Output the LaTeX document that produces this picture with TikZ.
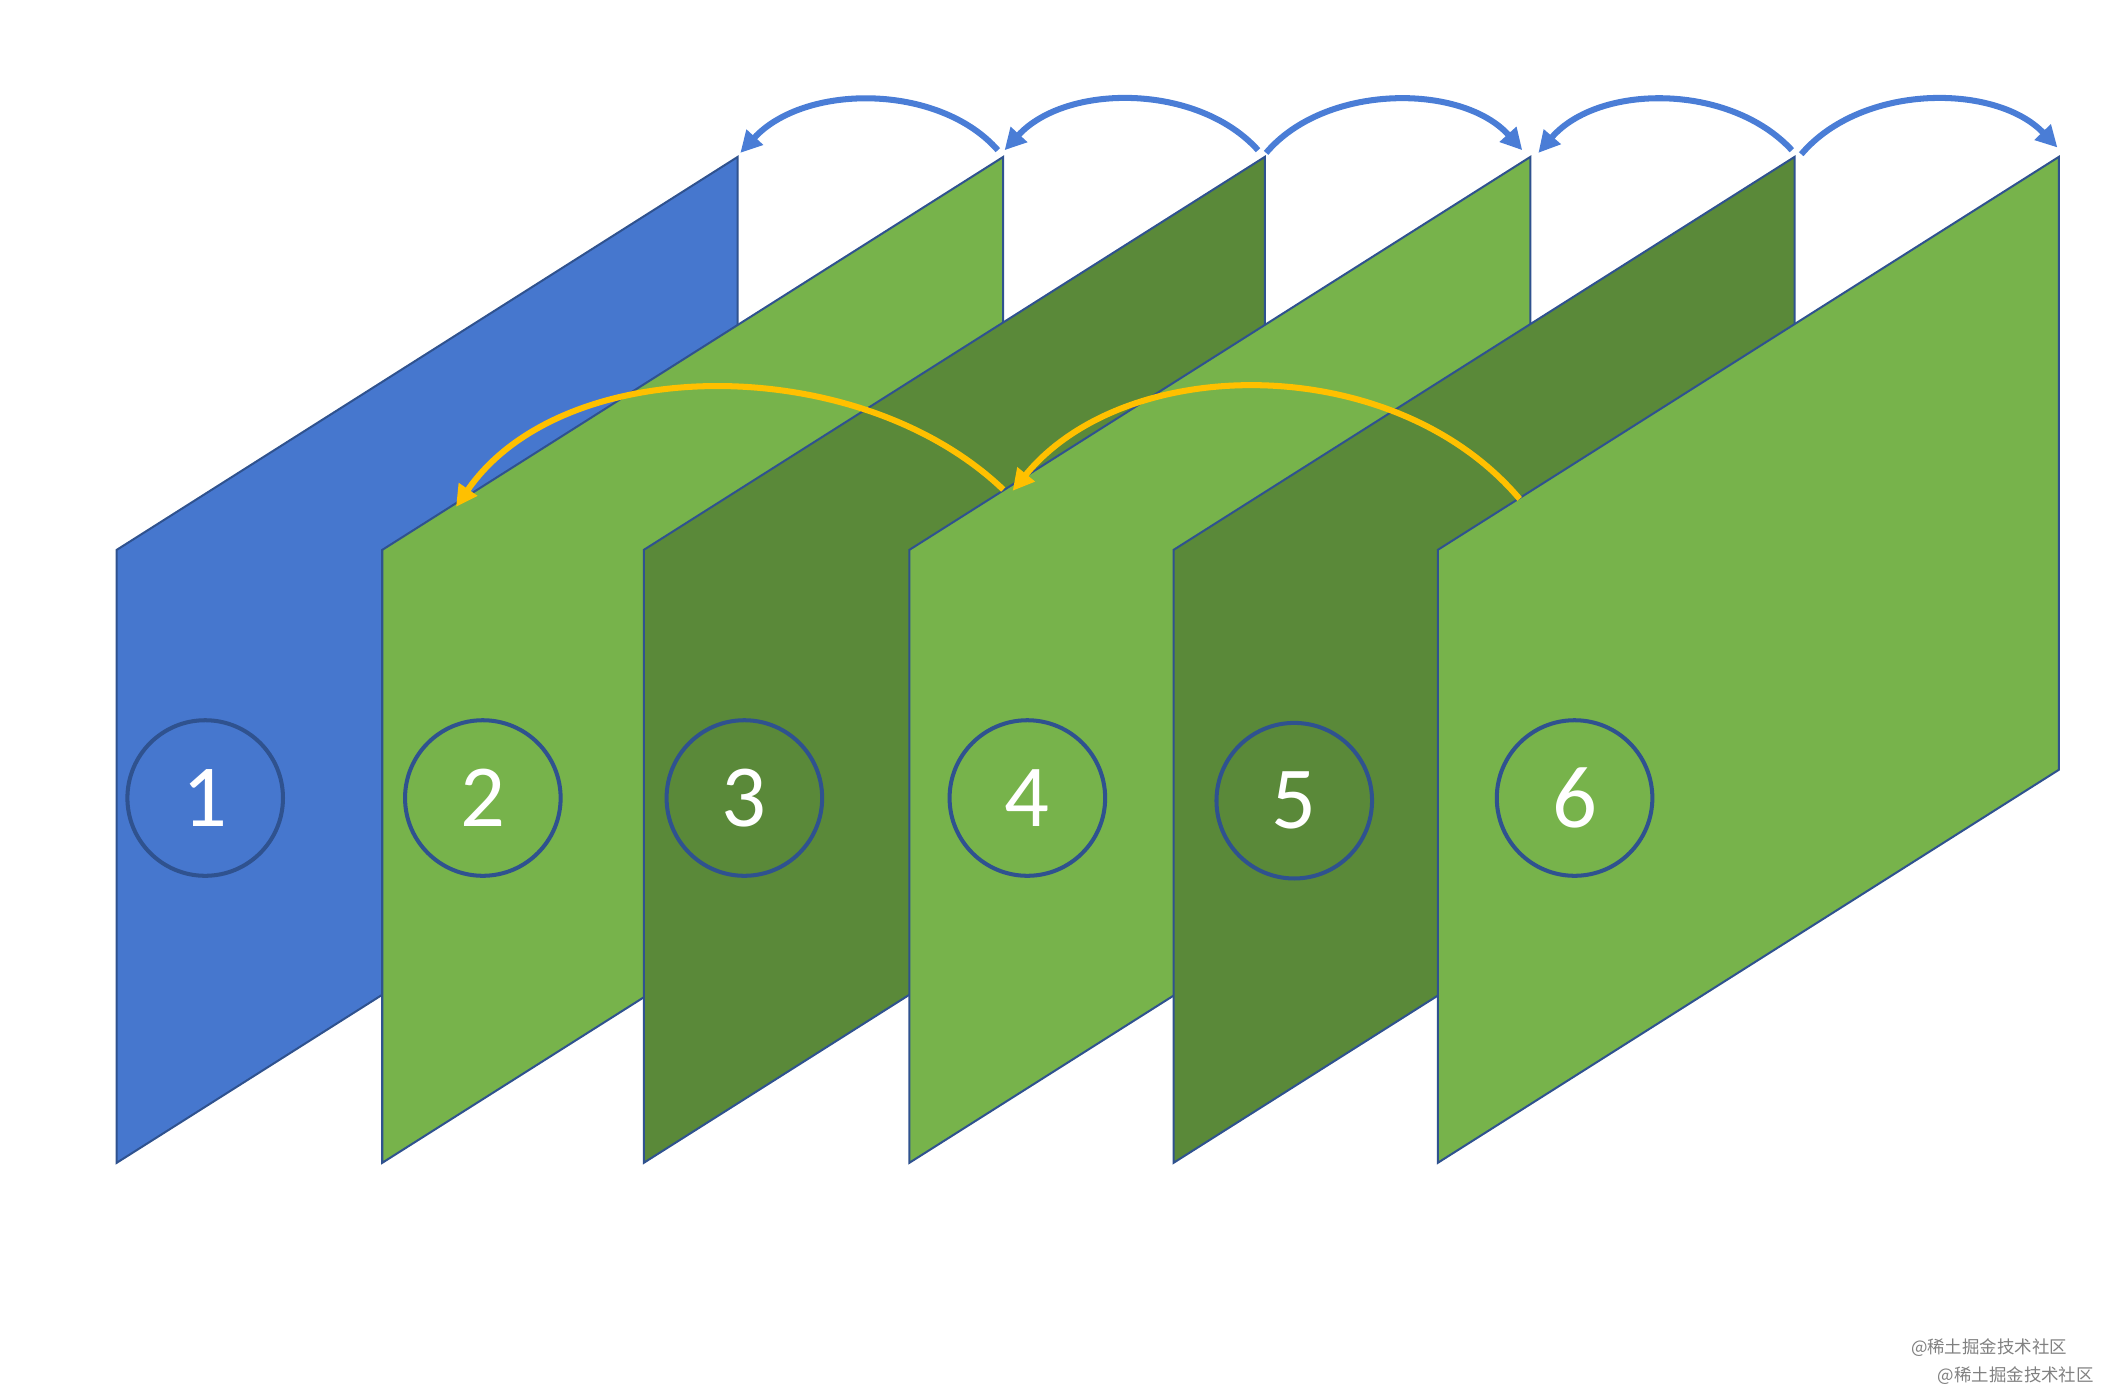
\documentclass[tikz,border=0pt]{standalone}
\usepackage{fontspec}
\setmainfont{Carlito}
\newfontfamily\cjk{Noto Sans CJK SC}
\usetikzlibrary{arrows.meta}
\definecolor{pblue}{HTML}{4677CE}
\definecolor{pgreen}{HTML}{77B34B}
\definecolor{pdark}{HTML}{5A8939}
\definecolor{edge}{HTML}{2F528F}
\definecolor{ayellow}{HTML}{FFC000}
\definecolor{ablue}{HTML}{4A7DD6}
\tikzset{
  panel/.style={draw=edge,line width=1.5pt},
  num/.style={circle,draw=edge,line width=3pt,minimum size=116pt,inner sep=0pt,text=white,font=\fontsize{66}{66}\selectfont},
  barc/.style={draw=ablue,line width=4.5pt,-{Triangle[length=16pt,width=16pt]}},
  yarc/.style={draw=ayellow,line width=4.5pt,-{Triangle[length=16pt,width=16pt]}},
  wm/.style={text=gray,font=\cjk\fontsize{13}{13}\selectfont}
}
\begin{document}
\begin{tikzpicture}[x=1pt,y=-1pt]
\useasboundingbox (0,0) rectangle (1568,1040);
\foreach \x/\c/\i in {87/pblue/1,285/pgreen/2,480/pdark/3,678/pgreen/4,875/pdark/5,1072/pgreen/6}{
  \fill[\c] (\x,867) -- (\x,410) -- (\x+463,117) -- (\x+463,574) -- cycle;
  \draw[panel] (\x,867) -- (\x,410) -- (\x+463,117) -- (\x+463,574) -- cycle;
  \coordinate (t\i) at (\x+463,113);
}
\node[num] (c1) at (153,595) {1};
\node[num] (c2) at (360,595) {2};
\node[num] (c3) at (555,595) {3};
\node[num] (c4) at (766,595) {4};
\node[num] (c5) at (965,597) {5};
\node[num] (c6) at (1174,595) {6};
% blue arcs
\coordinate (a2) at (744,112); \coordinate (b1) at (552,114);
\coordinate (a3) at (938,112); \coordinate (b2) at (749,112);
\coordinate (a3r) at (944,114); \coordinate (b4) at (1135,112);
\coordinate (a5) at (1336,112); \coordinate (b4r) at (1147,114);
\coordinate (a5r) at (1343,115); \coordinate (b6) at (1534,110);
\draw[barc] (a2) .. controls (700,62) and (600,62) .. (b1);
\draw[barc] (a3) .. controls (893,62) and (795,62) .. (b2);
\draw[barc] (a3r) .. controls (988,62) and (1090,62) .. (b4);
\draw[barc] (a5) .. controls (1290,62) and (1192,62) .. (b4r);
\draw[barc] (a5r) .. controls (1388,62) and (1488,62) .. (b6);
% yellow arcs
\coordinate (y1) at (748,365); \coordinate (y2) at (340,378);
\coordinate (y3) at (1133,372); \coordinate (y4) at (755,366);
\draw[yarc] (y1) .. controls (640,262) and (420,262) .. (y2);
\draw[yarc] (y3) .. controls (1040,262) and (840,262) .. (y4);
\node[wm] (w1) at (1483,1005) {@稀土掘金技术社区};
\node[wm] (w2) at (1503,1026) {@稀土掘金技术社区};
\end{tikzpicture}
\end{document}
